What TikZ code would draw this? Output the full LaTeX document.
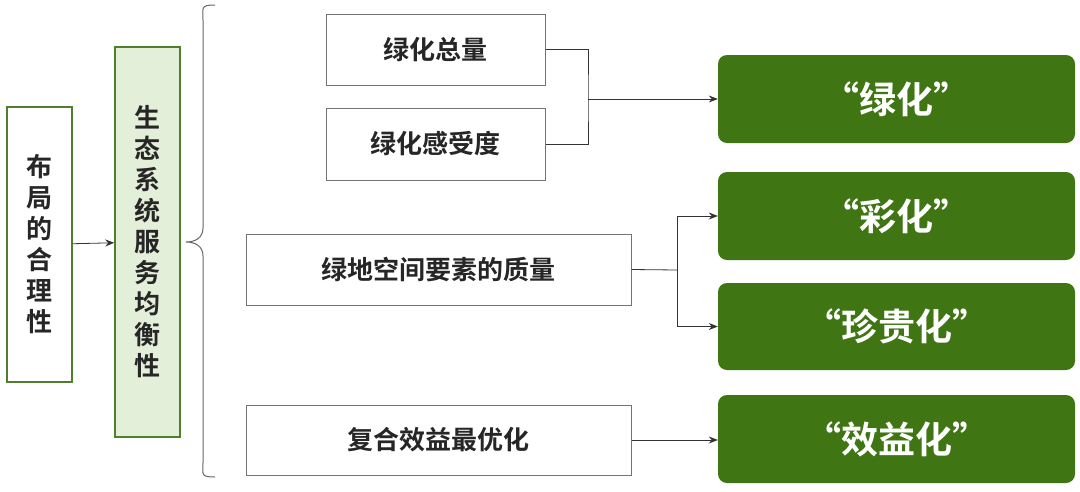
\documentclass[tikz,border=0pt]{standalone}
\usepackage{fontspec}
\setmainfont{Noto Sans CJK SC}[BoldFont={* Bold}]
\usetikzlibrary{arrows.meta,decorations.pathreplacing}
\definecolor{dg}{HTML}{3F7512}
\definecolor{lg}{HTML}{E4EFD9}
\definecolor{gb}{HTML}{4F7F2A}
\tikzset{
 vbox/.style={draw=gb,line width=1.5pt,minimum width=65pt,align=center,font=\bfseries\fontsize{26}{31}\selectfont,text=black!85},
 gbox/.style={draw=black!55,line width=1pt,font=\bfseries\fontsize{26}{30}\selectfont,text=black!85},
 rbox/.style={fill=dg,rounded corners=9pt,minimum width=357pt,minimum height=88pt,text=white,font=\bfseries\fontsize{37}{42}\selectfont},
 arr/.style={-{Stealth[length=9pt,width=7pt]},black!80,line width=0.8pt},
 ln/.style={black!80,line width=0.8pt}
}
\begin{document}
\begin{tikzpicture}[x=1pt,y=-1pt]
\useasboundingbox (0,0) rectangle (1080,491);
\node[vbox,minimum height=275pt] (a) at (39.5,244.5) {布\\局\\的\\合\\理\\性};
\node[vbox,fill=lg,minimum height=390pt] (b) at (147.5,242) {生\\态\\系\\统\\服\\务\\均\\衡\\性};
\draw[arr] (a) -- (b);
\draw[black!60,line width=1pt] (215,5) .. controls (200,5) and (203,8) .. (203,20) -- (203,228) .. controls (203,238) and (195,242) .. (186,242) .. controls (195,242) and (203,246) .. (203,256) -- (203,463) .. controls (203,474) and (200,477) .. (215,477);
\node[gbox,minimum width=219pt,minimum height=71pt] (c1) at (435.5,49.5) {绿化总量};
\node[gbox,minimum width=219pt,minimum height=72pt] (c2) at (435.5,144) {绿化感受度};
\node[gbox,minimum width=385pt,minimum height=71pt] (c3) at (438.5,269.5) {绿地空间要素的质量};
\node[gbox,minimum width=385pt,minimum height=70pt] (c4) at (438.5,440) {复合效益最优化};
\node[rbox] (r1) at (896.5,99) {“绿化”};
\node[rbox] (r2) at (896.5,216) {“彩化”};
\node[rbox,minimum height=87pt] (r3) at (896.5,326.5) {“珍贵化”};
\node[rbox] (r4) at (896.5,439) {“效益化”};
\coordinate (j1) at (588,99);
\coordinate (j2) at (677,270);
\draw[ln] (c1.east) -| (j1) |- (c2.east);
\draw[arr] (j1) -- (r1.west);
\draw[ln] (c3.east) -- (j2);
\draw[arr] (j2) |- (r2.west);
\draw[arr] (j2) |- (r3.west);
\draw[arr] (c4.east) -- (c4.east -| r4.west);
\end{tikzpicture}
\end{document}
